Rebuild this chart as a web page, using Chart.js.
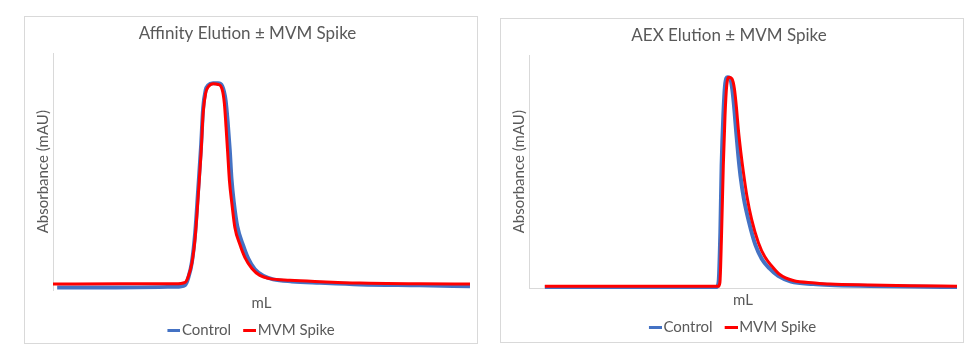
<!DOCTYPE html>
<html>
<head>
<meta charset="utf-8">
<script src="https://cdn.jsdelivr.net/npm/chart.js@4/dist/chart.umd.min.js"></script>
<style>
  html, body { margin: 0; padding: 0; background: #ffffff; width: 969px; height: 345px; overflow: hidden; }
  .frame { position: absolute; border: 1px solid #d9d9d9; box-sizing: border-box; }
  #frameA { left: 24px; top: 16px; width: 454px; height: 328px; }
  #frameB { left: 500px; top: 18px; width: 464px; height: 325px; }
  canvas { position: absolute; }
  #affinity { left: 25px; top: 16px; }
  #aex { left: 501px; top: 18px; }
</style>
</head>
<body>
<div class="frame" id="frameA"></div>
<div class="frame" id="frameB"></div>
<canvas id="affinity" width="452" height="332"></canvas>
<canvas id="aex" width="462" height="327"></canvas>
<script>
// Affinity elution traces (x: relative volume, y: relative absorbance)
const affinityControlX = [1, 15, 29.3, 31.7, 32.4, 33.3, 34.1, 34.8, 35.5, 36.0, 36.6, 37.2, 38.4, 39.6, 40.6, 41.4, 41.9, 42.4, 42.8, 43.4, 44.2, 45.6, 46.8, 48.4, 50.4, 52.8, 57.3, 64.0, 73.6, 88.0, 100];
const affinityControlY = [-0.9, -0.9, -0.6, 0.2, 3.0, 9.9, 22.8, 40.9, 59.9, 76.3, 84.1, 86.2, 87.1, 87.1, 85.8, 79.7, 70.3, 58.2, 46.1, 35.3, 25.4, 17.2, 11.6, 6.9, 4.1, 2.6, 1.7, 1.1, 0.4, 0.0, -0.4];
const affinitySpikeX = [0, 16.1, 29.3, 31.7, 32.4, 33.3, 34.1, 34.8, 35.5, 36.0, 36.6, 37.2, 38.4, 39.6, 40.5, 41.1, 41.5, 41.9, 42.3, 42.9, 43.6, 44.8, 46.0, 47.7, 49.6, 52.0, 56.8, 64.0, 73.6, 88.0, 100];
const affinitySpikeY = [0.6, 0.7, 0.7, 1.3, 3.6, 9.5, 20.8, 38.1, 56.9, 74.1, 82.8, 85.5, 86.9, 86.6, 84.9, 78.4, 68.2, 56.9, 45.3, 35.2, 25.1, 17.7, 12.1, 7.3, 4.3, 2.9, 2.2, 1.6, 1.0, 0.7, 0.6];

// AEX elution traces
const aexControlX = [3.7, 25, 43.8, 44.3, 44.7, 45.0, 45.4, 45.8, 46.4, 47.0, 47.5, 48.0, 48.4, 48.9, 49.4, 50.2, 51.4, 52.9, 54.4, 56.2, 58.2, 61.2, 66.4, 70.3, 79.7, 89.0, 100];
const aexControlY = [0.4, 0.4, 0.4, 2.6, 23.8, 52.6, 74.1, 87.1, 90.6, 90.0, 85.3, 76.3, 67.2, 56.9, 48.3, 38.4, 28.4, 18.5, 12.5, 8.4, 5.2, 2.8, 1.7, 1.3, 0.9, 0.6, 0.4];
const aexSpikeX = [3.7, 25, 44.2, 44.6, 45.0, 45.4, 45.8, 46.2, 46.7, 47.4, 48.0, 48.5, 48.9, 49.5, 50.1, 50.9, 52.0, 53.6, 55.1, 56.8, 58.6, 61.7, 66.8, 70.3, 79.7, 89.0, 100];
const aexSpikeY = [0.7, 0.7, 0.7, 2.3, 23.8, 52.6, 74.1, 87.1, 90.6, 90.0, 85.6, 77.0, 68.4, 58.3, 49.7, 39.7, 29.6, 19.5, 13.4, 9.3, 5.8, 3.2, 2.2, 1.7, 1.3, 1.0, 0.8];

const seriesNames = ['Control', 'MVM Spike'];
const seriesColors = ['#4472C4', '#FF0000'];
const titles = ['Affinity Elution \u00B1 MVM Spike', 'AEX Elution \u00B1 MVM Spike'];
const xTitle = 'mL';
const yTitle = 'Absorbance (mAU)';

Chart.defaults.font.family = 'Lato, "Open Sans", sans-serif';
Chart.defaults.color = '#595959';

function points(xs, ys) {
  return xs.map((x, i) => ({ x: x, y: ys[i] }));
}

// Legend swatch: a short bar sitting right next to its label
function swatch(color) {
  const c = document.createElement('canvas');
  c.width = 26; c.height = 3;
  const g = c.getContext('2d');
  g.fillStyle = color;
  g.fillRect(13, 0, 13, 3);
  return c;
}
const swatches = seriesColors.map(swatch);

function makeChart(id, title, control, spike, opt) {
  return new Chart(document.getElementById(id), {
    type: 'line',
    data: {
      datasets: [
        { label: seriesNames[0], data: control, borderColor: seriesColors[0], backgroundColor: seriesColors[0],
          borderWidth: 4, pointRadius: 0, cubicInterpolationMode: 'monotone', order: 1, clip: 4 },
        { label: seriesNames[1], data: spike, borderColor: seriesColors[1], backgroundColor: seriesColors[1],
          borderWidth: 3, pointRadius: 0, cubicInterpolationMode: 'monotone', order: 0, clip: 4 }
      ]
    },
    options: {
      responsive: false,
      animation: false,
      events: [],
      layout: { padding: { left: 0, right: opt.right, top: 0, bottom: 0 } },
      plugins: {
        title: { display: true, text: title, font: { size: 17, weight: 'normal' }, color: '#595959',
                 padding: { top: 7, bottom: 10 } },
        legend: {
          position: 'bottom',
          labels: {
            usePointStyle: true, pointStyleWidth: 14, boxHeight: 3, padding: 5,
            font: { size: 15 }, color: '#595959',
            generateLabels: (chart) => chart.data.datasets.map((ds, i) => ({
              text: ds.label, pointStyle: swatches[i], fillStyle: ds.borderColor,
              strokeStyle: ds.borderColor, lineWidth: 0, hidden: false, datasetIndex: i,
              fontColor: '#595959'
            }))
          }
        },
        tooltip: { enabled: false }
      },
      scales: {
        x: {
          type: 'linear', min: 0, max: 100,
          ticks: { display: false },
          grid: { display: false, drawTicks: false },
          border: { display: false },
          title: { display: true, text: xTitle, font: { size: 15 }, color: '#595959',
                   padding: { top: opt.xTop, bottom: opt.xBottom } }
        },
        y: {
          min: opt.yMin, max: 100,
          ticks: { display: false, stepSize: 50 },
          grid: {
            drawTicks: false, lineWidth: 1,
            color: (ctx) => (ctx.tick && ctx.tick.value === 0) ? '#d9d9d9' : 'rgba(0,0,0,0)'
          },
          border: { display: true, color: '#d9d9d9', width: 1 },
          title: { display: true, text: yTitle, font: { size: 15 }, color: '#595959',
                   padding: { top: 9, bottom: 1 } }
        }
      }
    }
  });
}

makeChart('affinity', titles[0],
  points(affinityControlX, affinityControlY), points(affinitySpikeX, affinitySpikeY),
  { right: 7, xTop: 4, xBottom: 6, yMin: -2 });
makeChart('aex', titles[1],
  points(aexControlX, aexControlY), points(aexSpikeX, aexSpikeY),
  { right: 6, xTop: 3, xBottom: 6, yMin: 0 });
</script>
</body>
</html>
